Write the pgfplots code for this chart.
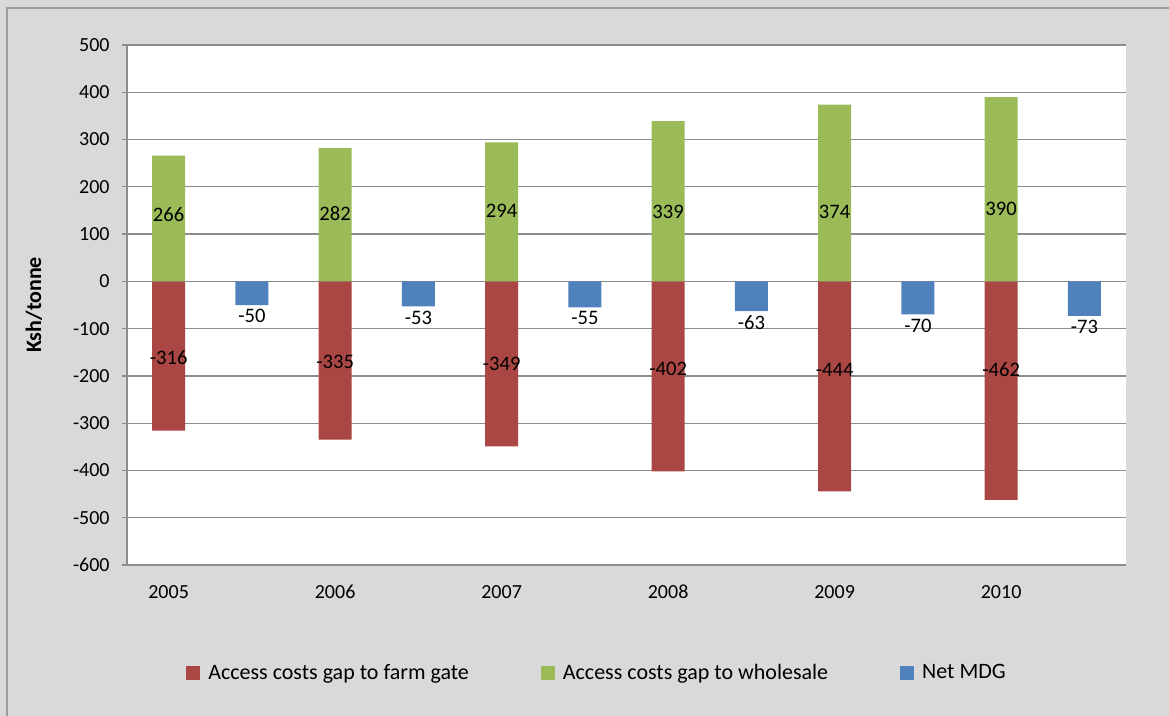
\documentclass[border=0pt]{standalone}
\usepackage{pgfplots}
\pgfplotsset{compat=1.18}
\usepackage{pgfplotstable}
\usepackage{fontspec}
\setmainfont{Carlito}

\definecolor{farmred}{HTML}{AA4643}
\definecolor{wholegreen}{HTML}{9BBB59}
\definecolor{netblue}{HTML}{4F81BD}
\definecolor{panelgrey}{HTML}{D9D9D9}
\definecolor{gridgrey}{HTML}{8C8C8C}
\definecolor{framegrey}{HTML}{9C9C9C}

% access cost gaps, one bar pair per year (even slots);
% lyf / lyw hold the heights at which the value labels sit
\pgfplotstableread{
x farm wholesale lyf lyw
0  -316 266 -160.6 140.5
2  -335 282 -171.1 142.6
4  -349 294 -174.7 149.6
6  -402 339 -185.3 147.4
8  -444 374 -187.4 147.4
10 -462 390 -185.9 152.5
}\gaps

% net MDG, one bar per year (odd slots)
\pgfplotstableread{
x net
1  -50
3  -53
5  -55
7  -63
9  -70
11 -73
}\netmdg

\pgfplotsset{
  sqlegend/.style={legend image code/.code={\fill[##1] (0pt,-3.5pt) rectangle (7pt,3.5pt);}},
  inlabel/.style={
    nodes near coords,
    visualization depends on={rawy \as \rawy},
    visualization depends on={\thisrow{#1} \as \laby},
    every node near coord/.append style={anchor=center,
      font=\fontsize{10.3}{12}\selectfont, text=black,
      shift={(axis direction cs:0,\laby-\rawy)}},
  },
}

\begin{document}
\begin{tikzpicture}
\useasboundingbox (0,0) rectangle (584.5pt,-358pt);
\fill[panelgrey] (0,0) rectangle (584.5pt,-358pt);
\draw[framegrey, line width=1pt] (3.5pt,-358pt) -- (3.5pt,-4pt) -- (584.5pt,-4pt);
\begin{axis}[
  at={(63.5pt,-282.5pt)}, anchor=south west,
  scale only axis, width=499.5pt, height=260pt,
  axis background/.style={fill=white},
  xmin=-0.5, xmax=11.5, ymin=-600, ymax=500,
  axis x line*=bottom, axis y line*=left,
  axis line style={gridgrey, line width=0.6pt},
  xtick={0,2,4,6,8,10},
  xticklabels={2005,2006,2007,2008,2009,2010},
  xtick style={draw=none},
  xticklabel style={anchor=center, yshift=-11pt},
  ytick={-600,-500,...,500},
  tick align=outside,
  ytick style={gridgrey, line width=0.6pt},
  major tick length=2.5pt,
  yticklabel style={anchor=east, inner sep=0pt, xshift=-6pt},
  ymajorgrids,
  grid style={gridgrey, line width=0.6pt},
  tick label style={font=\fontsize{10}{12}\selectfont},
  /pgf/number format/assume math mode=true,
  /pgf/number format/1000 sep={},
  ylabel={\textbf{Ksh/tonne}},
  ylabel style={at={(axis description cs:-0.0931,0.5)}, anchor=center,
    font=\fontsize{11}{13}\selectfont},
  legend columns=3,
  legend style={at={(axis description cs:0.4715,-0.2077)}, anchor=center,
    draw=none, fill=none, font=\fontsize{11}{13}\selectfont,
    /tikz/every even column/.append style={column sep=34pt},
    /tikz/every odd column/.append style={column sep=2pt}},
]
\addplot[ybar, bar width=16.5pt, bar shift=0pt, fill=farmred, draw=none,
  sqlegend, inlabel=lyf] table[x=x, y=farm] {\gaps};
\addlegendentry{Access costs gap to farm gate}
\addplot[ybar, bar width=16.5pt, bar shift=0pt, fill=wholegreen, draw=none,
  sqlegend, inlabel=lyw] table[x=x, y=wholesale] {\gaps};
\addlegendentry{Access costs gap to wholesale}
\addplot[ybar, bar width=16.5pt, bar shift=0pt, fill=netblue, draw=none,
  sqlegend, nodes near coords,
  every node near coord/.append style={font=\fontsize{10.3}{12}\selectfont,
    text=black, inner sep=2pt}] table[x=x, y=net] {\netmdg};
\addlegendentry{Net MDG}
\end{axis}
\end{tikzpicture}
\end{document}
